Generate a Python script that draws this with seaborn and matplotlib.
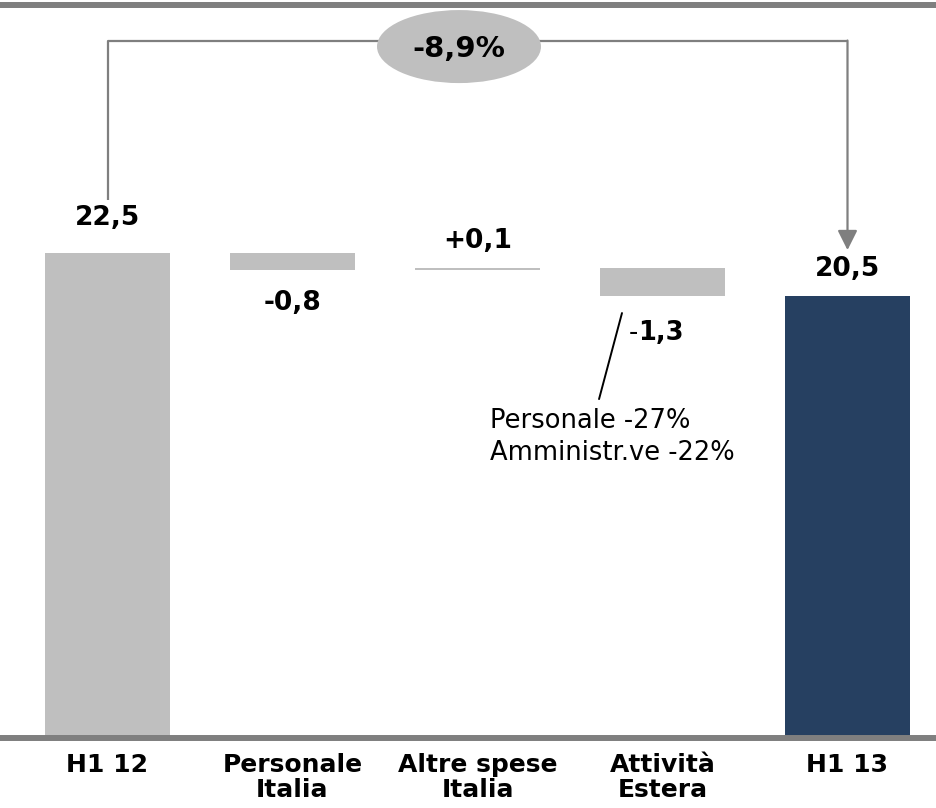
import pandas as pd
import matplotlib
matplotlib.use('Agg')
import matplotlib.pyplot as plt
import seaborn as sns
from matplotlib.patches import Ellipse

# --- Data ---
CATEGORIES = ['H1 12', 'Personale\nItalia', 'Altre spese\nItalia', 'Attività\nEstera', 'H1 13']
DELTAS = [22.5, -0.8, 0.1, -1.3, 20.5]
IS_TOTAL = [True, False, False, False, True]
VALUE_LABELS = ['22,5', '-0,8', '+0,1', '-1,3', '20,5']
CHANGE_LABEL = '-8,9%'
NOTE_LINES = ['Personale -27%', 'Amministr.ve -22%']

# --- Style ---
GREY = '#BFBFBF'
NAVY = '#264061'
LINE_GREY = '#7F7F7F'
BAR_COLORS = [GREY, GREY, GREY, GREY, NAVY]
# label gap (data units): >0 above the bar top, <0 below the bar bottom
LABEL_GAP = [1.29, -1.85, 0.93, -2.04, 0.93]

PX_PER_UNIT = 21.56
SLOT_PX = 185.0

# --- Waterfall geometry from the deltas ---
bottoms, heights = [], []
running = 0.0
for d, tot in zip(DELTAS, IS_TOTAL):
    if tot:
        bottoms.append(0.0)
        heights.append(d)
        running = d
    else:
        new = running + d
        bottoms.append(min(running, new))
        heights.append(abs(d))
        running = new

df = pd.DataFrame({'cat': CATEGORIES, 'height': heights, 'bottom': bottoms})

# --- Plot ---
sns.set_style('white')
plt.rcParams['font.family'] = ['DejaVu Sans']
plt.rcParams['text.color'] = 'black'
plt.rcParams['xtick.color'] = 'black'

fig = plt.figure(figsize=(9.37, 8.08), dpi=100)
ax = fig.add_axes([0, 70 / 808, 1, 733 / 808])

sns.barplot(data=df, x='cat', y='height', hue='cat', palette=BAR_COLORS,
            legend=False, width=0.676, saturation=1, linewidth=0, ax=ax)

# float the bars onto their running bottoms
for cont, b in zip(ax.containers, bottoms):
    for bar in cont:
        bar.set_y(b)

ax.set_xlim(-107.5 / SLOT_PX, (937 - 107.5) / SLOT_PX)
ax.set_ylim(0, 733 / PX_PER_UNIT)
ax.set_xlabel('')
ax.set_ylabel('')
ax.set_yticks([])

for side in ['left', 'right']:
    ax.spines[side].set_visible(False)
for side in ['top', 'bottom']:
    ax.spines[side].set_color(LINE_GREY)
    ax.spines[side].set_linewidth(4.3)

ax.set_xticks(range(len(CATEGORIES)))
ax.set_xticklabels(CATEGORIES, fontsize=18, fontweight='bold', linespacing=1.02,
                   color='black')
ax.tick_params(axis='x', length=0, pad=11)

# value labels
for i, (lab, b, h, gap) in enumerate(zip(VALUE_LABELS, bottoms, heights, LABEL_GAP)):
    y = b + h + gap if gap > 0 else b + gap
    if i == 3:
        split_x = i - 24 / SLOT_PX
        ax.text(split_x, y, lab[0], ha='right', va='baseline', fontsize=18.5)
        ax.text(split_x, y, lab[1:], ha='left', va='baseline', fontsize=18.5,
                fontweight='bold')
    else:
        ax.text(i, y, lab, ha='center', va='baseline', fontsize=19, fontweight='bold')

# bracket with arrow from first to last total
y_br = 32.35
ax.plot([0, 0, 4], [24.95, y_br, y_br], color=LINE_GREY, lw=1.6, solid_capstyle='butt')
ax.annotate('', xy=(4, 22.63), xytext=(4, y_br),
            arrowprops=dict(arrowstyle='-|>', color=LINE_GREY, lw=1.6,
                            mutation_scale=30, shrinkA=0, shrinkB=0))

ell_x = (459 - 107.5) / SLOT_PX
ax.add_patch(Ellipse((ell_x, 32.07), 164 / SLOT_PX, 73 / PX_PER_UNIT,
                     facecolor=GREY, edgecolor='none', zorder=3))
ax.text(ell_x, 31.98, CHANGE_LABEL, ha='center', va='center', fontsize=21,
        fontweight='bold', zorder=4)

# note on the foreign activities bar
ax.plot([2.781, 2.657], [19.71, 15.72], color='black', lw=1.4)
ax.text(2.068, 14.38, NOTE_LINES[0], ha='left', va='baseline', fontsize=18.5)
ax.text(2.068, 12.89, NOTE_LINES[1], ha='left', va='baseline', fontsize=18.5)

fig.savefig('out.png', dpi=100)
